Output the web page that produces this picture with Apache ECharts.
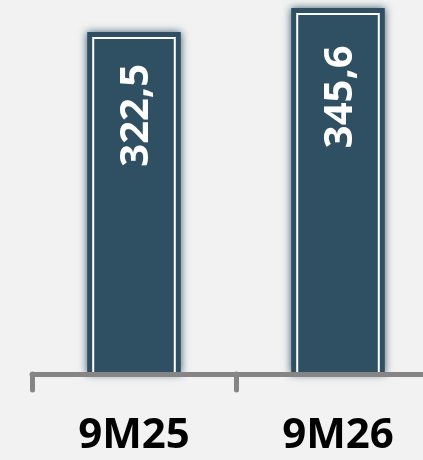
<!DOCTYPE html>
<html>
<head>
<meta charset="utf-8">
<script src="https://cdn.jsdelivr.net/npm/echarts@6/dist/echarts.min.js"></script>
<style>
html,body{margin:0;padding:0;background:#F2F2F2;}
#chart{width:423px;height:460px;}
</style>
</head>
<body>
<div id="chart"></div>
<script>
const categories = ['9M25', '9M26'];
const values = [322.5, 345.6];

const chart = echarts.init(document.getElementById('chart'), null, {renderer: 'canvas'});
const barColor = '#2F5062';

chart.setOption({
  backgroundColor: '#F2F2F2',
  animation: false,
  grid: {left: 32, width: 408, top: 0, bottom: 86, containLabel: false, outerBoundsMode: 'none'},
  xAxis: {
    type: 'category',
    data: categories,
    z: 5,
    axisLine: {show: true, lineStyle: {color: '#858585', width: 5}},
    axisTick: {show: true, length: 16, lineStyle: {color: '#858585', width: 5, cap: 'round'}},
    axisLabel: {
      color: '#000000', fontFamily: 'Open Sans', fontWeight: 'bold', fontSize: 42, margin: 41
    }
  },
  yAxis: {type: 'value', min: 0, max: 359, show: false, splitLine: {show: false}},
  series: [{
    type: 'custom',
    z: 2,
    clip: false,
    data: values.map((v, i) => [i, v]),
    encode: {x: 0, y: 1},
    renderItem: function (params, api) {
      const v = api.value(1);
      const top = api.coord([api.value(0), v]);
      const base = api.coord([api.value(0), 0]);
      const mid = api.coord([api.value(0), v * 0.77]);
      const cw = api.size([1, 0])[0];
      const w = cw * 0.4;
      const cx = top[0];
      const pad = 6;
      return {
        type: 'group',
        children: [
          {
            type: 'rect',
            shape: {x: cx - w / 2 - pad, y: top[1] - pad, width: w + pad * 2, height: base[1] - top[1] + pad},
            style: {fill: barColor, shadowBlur: 8, shadowColor: 'rgba(47,80,98,0.9)'}
          },
          {
            type: 'rect',
            shape: {x: cx - w / 2, y: top[1], width: w, height: base[1] - top[1]},
            style: {fill: barColor, stroke: '#FFFFFF', lineWidth: 2}
          },
          {
            type: 'text',
            x: cx + 3,
            y: mid[1],
            rotation: Math.PI / 2,
            style: {
              text: String(v).replace('.', ','),
              fill: '#FFFFFF',
              font: 'bold 40px "Open Sans"',
              align: 'center',
              verticalAlign: 'middle'
            }
          }
        ]
      };
    }
  }]
});
</script>
</body>
</html>
